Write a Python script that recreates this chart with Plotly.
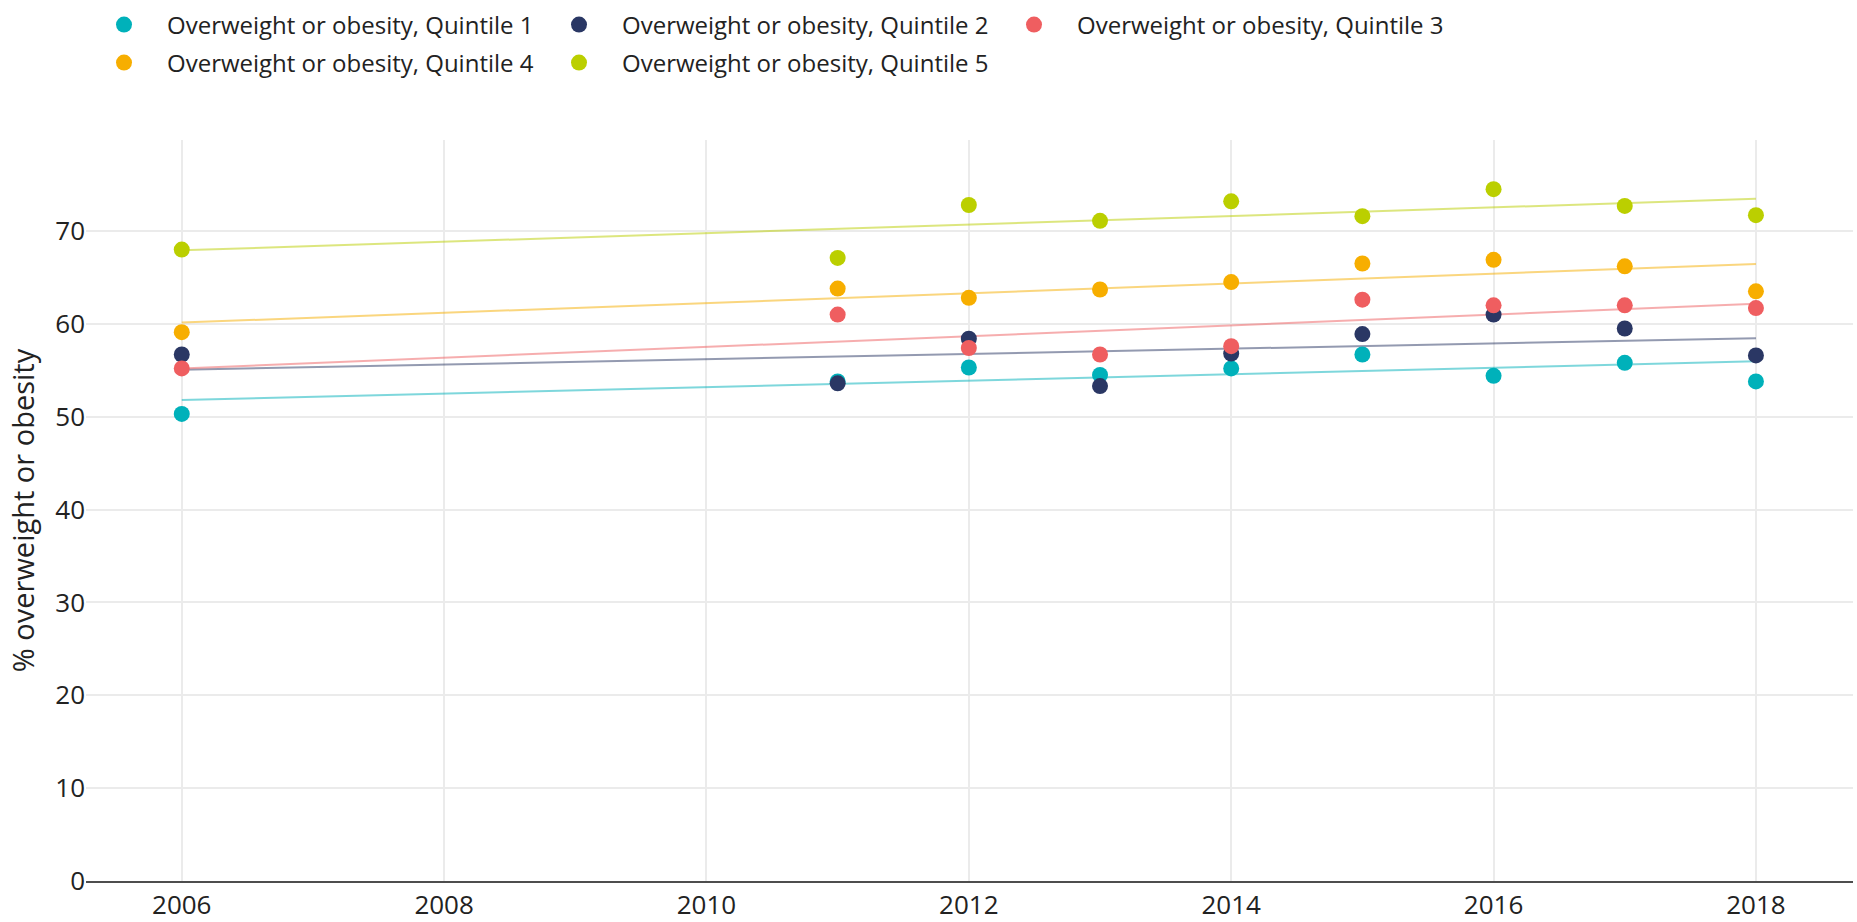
import plotly.graph_objects as go
import numpy as np

years = [2006, 2011, 2012, 2013, 2014, 2015, 2016, 2017, 2018]
q1 = [50.3, 53.8, 55.3, 54.5, 55.2, 56.7, 54.4, 55.8, 53.8]
q2 = [56.7, 53.6, 58.4, 53.3, 56.8, 58.9, 61.0, 59.5, 56.6]
q3 = [55.2, 61.0, 57.4, 56.7, 57.6, 62.6, 62.0, 62.0, 61.7]
q4 = [59.1, 63.8, 62.8, 63.7, 64.5, 66.5, 66.9, 66.2, 63.5]
q5 = [68.0, 67.1, 72.8, 71.1, 73.2, 71.6, 74.5, 72.7, 71.7]

names = ["Overweight or obesity, Quintile 1", "Overweight or obesity, Quintile 2",
         "Overweight or obesity, Quintile 3", "Overweight or obesity, Quintile 4",
         "Overweight or obesity, Quintile 5"]
series = [q1, q2, q3, q4, q5]
colors = ["#00B1BA", "#2A3764", "#EF5E60", "#F7AE00", "#BBCF00"]
legends = ["legend", "legend", "legend", "legend2", "legend2"]

FONT = "'Open Sans', Lato, sans-serif"

fig = go.Figure()
x_arr = np.array(years, dtype=float)
for name, ys, col, lg in zip(names, series, colors, legends):
    coef = np.polyfit(x_arr, np.array(ys), 1)
    xs = [min(years), max(years)]
    fig.add_trace(go.Scatter(x=xs, y=list(np.polyval(coef, xs)), mode="lines",
                             line=dict(color=col, width=2), opacity=0.5,
                             showlegend=False, hoverinfo="skip"))
for name, ys, col, lg in zip(names, series, colors, legends):
    fig.add_trace(go.Scatter(x=years, y=ys, mode="markers", name=name,
                             marker=dict(color=col, size=16), legend=lg))

PT, PB, PL, PR = 140, 881, 86, 1853
ph = PB - PT
pw = PR - PL

leg_common = dict(orientation="h", xref="paper", yref="paper",
                  xanchor="left", yanchor="middle",
                  font=dict(family=FONT, size=24, color="#222"),
                  entrywidth=364, entrywidthmode="pixels", itemwidth=76,
                  bgcolor="rgba(0,0,0,0)")

fig.update_layout(
    width=1857, height=922,
    paper_bgcolor="white", plot_bgcolor="white",
    margin=dict(l=PL, r=1857 - PR, t=PT, b=922 - PB, autoexpand=False),
    font=dict(family=FONT, size=22, color="#222"),
    legend=dict(x=(81 - PL) / pw, y=(PB - 25) / ph, **leg_common),
    legend2=dict(x=(81 - PL) / pw, y=(PB - 63) / ph, **leg_common),
    xaxis=dict(range=[2005.27, 2018.74], tickvals=[2006, 2008, 2010, 2012, 2014, 2016, 2018],
               showgrid=True, gridcolor="#EBEBEB", gridwidth=1.5, automargin=False,
               showline=True, linecolor="#4D4D4D", linewidth=2, zeroline=False,
               ticks="", tickfont=dict(family=FONT, size=26, color="#222")),
    yaxis=dict(range=[0, 79.8], tickvals=[0, 10, 20, 30, 40, 50, 60, 70],
               showgrid=True, gridcolor="#EBEBEB", gridwidth=1.5, zeroline=False,
               automargin=False,
               showline=False, ticks="", tickfont=dict(family=FONT, size=26, color="#222"),
               title=dict(text="% overweight or obesity", font=dict(family=FONT, size=29, color="#222"),
                          standoff=12)),
)

fig.write_html("out.html", config={"displayModeBar": False},
               post_script="document.body.style.margin='0';document.body.style.overflow='hidden';")
